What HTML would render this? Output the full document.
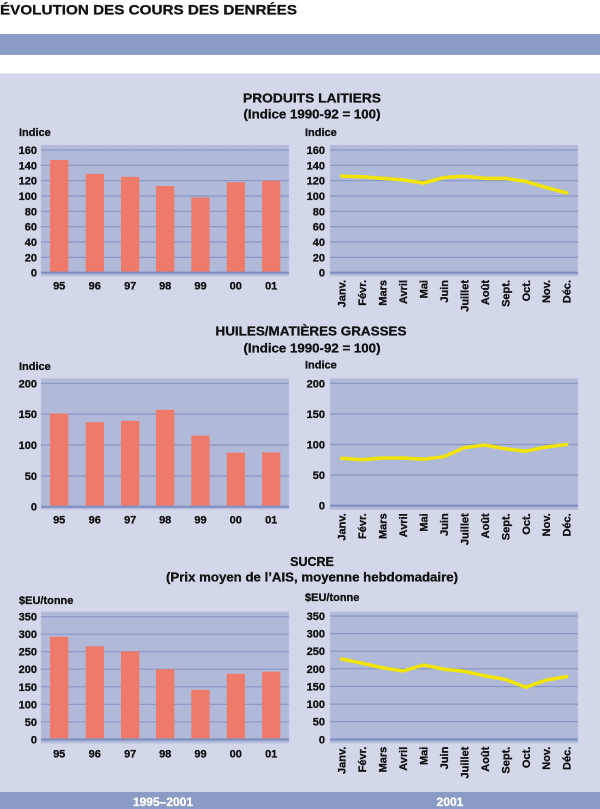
<!DOCTYPE html>
<html><head><meta charset="utf-8"><style>
html,body{margin:0;padding:0;background:#fff;}
svg{display:block;}
text{font-family:"Liberation Sans",Arial,sans-serif;font-weight:bold;fill:#111;stroke:#111;stroke-width:0.3;}
.t{font-size:11px;}
.h{font-size:12.5px;}
.w{fill:#fff;stroke:#fff;}
.g{stroke:#8798c6;stroke-width:1.2;}
.ax{stroke:#7f90c0;stroke-width:2.2;}
.bar{fill:#ee7a6a;}
.pl{fill:#b1b9d9;stroke:#c3c9e2;stroke-width:1;stroke-dasharray:1.5 1.5;}
.ln{fill:none;stroke:#f1e500;stroke-width:3.5;stroke-linejoin:round;stroke-linecap:round;}
</style></head><body>
<svg width="600" height="809" viewBox="0 0 600 809" xmlns="http://www.w3.org/2000/svg">
<rect x="0" y="0" width="600" height="809" fill="#fff"/>
<text x="0" y="14.5" style="font-size:14px" textLength="297" lengthAdjust="spacingAndGlyphs">ÉVOLUTION DES COURS DES DENRÉES</text>
<rect x="0" y="34" width="600" height="21" fill="#8a9cc6"/>
<rect x="0" y="73.5" width="600" height="718.5" fill="#d3d7ea"/>
<rect x="0" y="792" width="600" height="17" fill="#8a9cc6"/>
<text x="163" y="806" text-anchor="middle" class="w" style="font-size:12px">1995–2001</text>
<text x="450" y="806" text-anchor="middle" class="w" style="font-size:12px">2001</text>

<!-- Chart 1 titles -->
<text x="312" y="102.5" text-anchor="middle" class="h" textLength="138" lengthAdjust="spacingAndGlyphs">PRODUITS LAITIERS</text>
<text x="312" y="118.5" text-anchor="middle" class="h" textLength="137" lengthAdjust="spacingAndGlyphs">(Indice 1990-92 = 100)</text>
<text x="19" y="136" class="t">Indice</text>
<text x="305" y="136" class="t">Indice</text>

<!-- C1 left -->
<rect class="pl" x="41" y="145" width="248" height="131"/>
<g class="g">
<line x1="41" x2="289" y1="257.4" y2="257.4"/><line x1="41" x2="289" y1="242" y2="242"/>
<line x1="41" x2="289" y1="226.7" y2="226.7"/><line x1="41" x2="289" y1="211.3" y2="211.3"/>
<line x1="41" x2="289" y1="196" y2="196"/><line x1="41" x2="289" y1="180.7" y2="180.7"/>
<line x1="41" x2="289" y1="165.3" y2="165.3"/><line x1="41" x2="289" y1="150" y2="150"/>
</g>
<rect class="bar" x="50" y="160" width="18.3" height="112.7"/>
<rect class="bar" x="85.7" y="173.8" width="18.3" height="98.9"/>
<rect class="bar" x="121" y="176.8" width="18.3" height="95.9"/>
<rect class="bar" x="156" y="186" width="18.3" height="86.7"/>
<rect class="bar" x="191.3" y="197.5" width="18.3" height="75.2"/>
<rect class="bar" x="226.7" y="182.2" width="18.3" height="90.5"/>
<rect class="bar" x="262" y="180.7" width="18.3" height="92"/>
<line class="ax" x1="41" x2="289" y1="272.7" y2="272.7"/>
<g class="t" text-anchor="end">
<text x="37" y="276.7">0</text><text x="37" y="261.4">20</text><text x="37" y="246">40</text>
<text x="37" y="230.7">60</text><text x="37" y="215.3">80</text><text x="37" y="200">100</text>
<text x="37" y="184.7">120</text><text x="37" y="169.3">140</text><text x="37" y="154">160</text>
</g>
<g class="t" text-anchor="middle">
<text x="59.2" y="289.7">95</text><text x="94.8" y="289.7">96</text><text x="130.2" y="289.7">97</text>
<text x="165.2" y="289.7">98</text><text x="200.5" y="289.7">99</text><text x="235.8" y="289.7">00</text>
<text x="271.2" y="289.7">01</text>
</g>

<!-- C1 right -->
<rect class="pl" x="330" y="145" width="248" height="131"/>
<g class="g">
<line x1="330" x2="578" y1="257.4" y2="257.4"/><line x1="330" x2="578" y1="242" y2="242"/>
<line x1="330" x2="578" y1="226.7" y2="226.7"/><line x1="330" x2="578" y1="211.3" y2="211.3"/>
<line x1="330" x2="578" y1="196" y2="196"/><line x1="330" x2="578" y1="180.7" y2="180.7"/>
<line x1="330" x2="578" y1="165.3" y2="165.3"/><line x1="330" x2="578" y1="150" y2="150"/>
</g>
<line class="ax" x1="330" x2="578" y1="272.7" y2="272.7"/>
<polyline class="ln" points="341.7,176.1 362.2,176.8 382.6,178.4 403.1,179.9 423.5,183 444,177.6 464.4,176.1 484.9,178.4 505.3,178.4 525.8,181.4 546.2,187.6 566.7,192.9"/>
<g class="t" text-anchor="end">
<text x="325" y="276.7">0</text><text x="325" y="261.4">20</text><text x="325" y="246">40</text>
<text x="325" y="230.7">60</text><text x="325" y="215.3">80</text><text x="325" y="200">100</text>
<text x="325" y="184.7">120</text><text x="325" y="169.3">140</text><text x="325" y="154">160</text>
</g>
<g class="t" text-anchor="end">
<text transform="translate(345.7,280) rotate(-90)">Janv.</text>
<text transform="translate(366.2,280) rotate(-90)">Févr.</text>
<text transform="translate(386.6,280) rotate(-90)">Mars</text>
<text transform="translate(407.1,280) rotate(-90)">Avril</text>
<text transform="translate(427.5,280) rotate(-90)">Mai</text>
<text transform="translate(448,280) rotate(-90)">Juin</text>
<text transform="translate(468.4,280) rotate(-90)">Juillet</text>
<text transform="translate(488.9,280) rotate(-90)">Août</text>
<text transform="translate(509.3,280) rotate(-90)">Sept.</text>
<text transform="translate(529.8,280) rotate(-90)">Oct.</text>
<text transform="translate(550.2,280) rotate(-90)">Nov.</text>
<text transform="translate(570.7,280) rotate(-90)">Déc.</text>
</g>

<!-- Chart 2 titles -->
<text x="311" y="335.5" text-anchor="middle" class="h" textLength="191" lengthAdjust="spacingAndGlyphs">HUILES/MATIÈRES GRASSES</text>
<text x="312" y="352.5" text-anchor="middle" class="h" textLength="137" lengthAdjust="spacingAndGlyphs">(Indice 1990-92 = 100)</text>
<text x="19" y="370" class="t">Indice</text>
<text x="305" y="368.5" class="t">Indice</text>

<!-- C2 left -->
<rect class="pl" x="41" y="378.3" width="248" height="131"/>
<g class="g">
<line x1="41" x2="289" y1="475.85" y2="475.85"/><line x1="41" x2="289" y1="445" y2="445"/>
<line x1="41" x2="289" y1="414.15" y2="414.15"/><line x1="41" x2="289" y1="383.3" y2="383.3"/>
</g>
<rect class="bar" x="50" y="413.5" width="18.3" height="93.2"/>
<rect class="bar" x="85.7" y="422.2" width="18.3" height="84.5"/>
<rect class="bar" x="121" y="420.9" width="18.3" height="85.8"/>
<rect class="bar" x="156" y="409.8" width="18.3" height="96.9"/>
<rect class="bar" x="191.3" y="435.7" width="18.3" height="71"/>
<rect class="bar" x="226.7" y="452.7" width="18.3" height="54"/>
<rect class="bar" x="262" y="452.4" width="18.3" height="54.3"/>
<line class="ax" x1="41" x2="289" y1="506.7" y2="506.7"/>
<g class="t" text-anchor="end">
<text x="37" y="510.7">0</text><text x="37" y="479.9">50</text><text x="37" y="449">100</text>
<text x="37" y="418.2">150</text><text x="37" y="387.3">200</text>
</g>
<g class="t" text-anchor="middle">
<text x="59.2" y="523.7">95</text><text x="94.8" y="523.7">96</text><text x="130.2" y="523.7">97</text>
<text x="165.2" y="523.7">98</text><text x="200.5" y="523.7">99</text><text x="235.8" y="523.7">00</text>
<text x="271.2" y="523.7">01</text>
</g>

<!-- C2 right -->
<rect class="pl" x="330" y="378.3" width="248" height="131.5"/>
<g class="g">
<line x1="330" x2="578" y1="475.1" y2="475.1"/><line x1="330" x2="578" y1="444.5" y2="444.5"/>
<line x1="330" x2="578" y1="413.9" y2="413.9"/><line x1="330" x2="578" y1="383.3" y2="383.3"/>
</g>
<line class="ax" x1="330" x2="578" y1="505.7" y2="505.7"/>
<polyline class="ln" points="341.7,458.3 362.2,459.8 382.6,458 403.1,458 423.5,459.2 444,456.7 464.4,447.6 484.9,445.1 505.3,448.8 525.8,451.2 546.2,447 566.7,444.5"/>
<g class="t" text-anchor="end">
<text x="325" y="509.7">0</text><text x="325" y="479.1">50</text><text x="325" y="448.5">100</text>
<text x="325" y="417.9">150</text><text x="325" y="387.3">200</text>
</g>
<g class="t" text-anchor="end">
<text transform="translate(345.7,513.3) rotate(-90)">Janv.</text>
<text transform="translate(366.2,513.3) rotate(-90)">Févr.</text>
<text transform="translate(386.6,513.3) rotate(-90)">Mars</text>
<text transform="translate(407.1,513.3) rotate(-90)">Avril</text>
<text transform="translate(427.5,513.3) rotate(-90)">Mai</text>
<text transform="translate(448,513.3) rotate(-90)">Juin</text>
<text transform="translate(468.4,513.3) rotate(-90)">Juillet</text>
<text transform="translate(488.9,513.3) rotate(-90)">Août</text>
<text transform="translate(509.3,513.3) rotate(-90)">Sept.</text>
<text transform="translate(529.8,513.3) rotate(-90)">Oct.</text>
<text transform="translate(550.2,513.3) rotate(-90)">Nov.</text>
<text transform="translate(570.7,513.3) rotate(-90)">Déc.</text>
</g>

<!-- Chart 3 titles -->
<text x="312" y="566" text-anchor="middle" class="h">SUCRE</text>
<text x="312" y="581.5" text-anchor="middle" class="h" textLength="292" lengthAdjust="spacingAndGlyphs">(Prix moyen de l’AIS, moyenne hebdomadaire)</text>
<text x="19" y="604" class="t">$EU/tonne</text>
<text x="305" y="601" class="t">$EU/tonne</text>

<!-- C3 left -->
<rect class="pl" x="41" y="611.7" width="248" height="131.5"/>
<g class="g">
<line x1="41" x2="289" y1="721.8" y2="721.8"/><line x1="41" x2="289" y1="704.3" y2="704.3"/>
<line x1="41" x2="289" y1="686.8" y2="686.8"/><line x1="41" x2="289" y1="669.2" y2="669.2"/>
<line x1="41" x2="289" y1="651.7" y2="651.7"/><line x1="41" x2="289" y1="634.2" y2="634.2"/>
<line x1="41" x2="289" y1="616.7" y2="616.7"/>
</g>
<rect class="bar" x="50" y="636.7" width="18.3" height="102.6"/>
<rect class="bar" x="85.7" y="646.3" width="18.3" height="93"/>
<rect class="bar" x="121" y="651.4" width="18.3" height="87.9"/>
<rect class="bar" x="156" y="669.2" width="18.3" height="70.1"/>
<rect class="bar" x="191.3" y="689.9" width="18.3" height="49.4"/>
<rect class="bar" x="226.7" y="673.8" width="18.3" height="65.5"/>
<rect class="bar" x="262" y="671.7" width="18.3" height="67.6"/>
<line class="ax" x1="41" x2="289" y1="739.5" y2="739.5"/>
<g class="t" text-anchor="end">
<text x="37" y="743.3">0</text><text x="37" y="725.8">50</text><text x="37" y="708.3">100</text>
<text x="37" y="690.8">150</text><text x="37" y="673.2">200</text><text x="37" y="655.7">250</text>
<text x="37" y="638.2">300</text><text x="37" y="620.7">350</text>
</g>
<g class="t" text-anchor="middle">
<text x="59.2" y="757.3">95</text><text x="94.8" y="757.3">96</text><text x="130.2" y="757.3">97</text>
<text x="165.2" y="757.3">98</text><text x="200.5" y="757.3">99</text><text x="235.8" y="757.3">00</text>
<text x="271.2" y="757.3">01</text>
</g>

<!-- C3 right -->
<rect class="pl" x="330" y="611.7" width="248" height="131.5"/>
<g class="g">
<line x1="330" x2="578" y1="721.7" y2="721.7"/><line x1="330" x2="578" y1="704.1" y2="704.1"/>
<line x1="330" x2="578" y1="686.5" y2="686.5"/><line x1="330" x2="578" y1="668.8" y2="668.8"/>
<line x1="330" x2="578" y1="651.2" y2="651.2"/><line x1="330" x2="578" y1="633.6" y2="633.6"/>
<line x1="330" x2="578" y1="616" y2="616"/>
</g>
<line class="ax" x1="330" x2="578" y1="739.5" y2="739.5"/>
<polyline class="ln" points="341.7,659 362.2,663.2 382.6,667.8 403.1,671 423.5,665 444,669.2 464.4,671.3 484.9,675.9 505.3,679.4 525.8,687.2 546.2,680.1 566.7,676.6"/>
<g class="t" text-anchor="end">
<text x="325" y="743.3">0</text><text x="325" y="725.7">50</text><text x="325" y="708.1">100</text>
<text x="325" y="690.5">150</text><text x="325" y="672.8">200</text><text x="325" y="655.2">250</text>
<text x="325" y="637.6">300</text><text x="325" y="620">350</text>
</g>
<g class="t" text-anchor="end">
<text transform="translate(345.7,746.7) rotate(-90)">Janv.</text>
<text transform="translate(366.2,746.7) rotate(-90)">Févr.</text>
<text transform="translate(386.6,746.7) rotate(-90)">Mars</text>
<text transform="translate(407.1,746.7) rotate(-90)">Avril</text>
<text transform="translate(427.5,746.7) rotate(-90)">Mai</text>
<text transform="translate(448,746.7) rotate(-90)">Juin</text>
<text transform="translate(468.4,746.7) rotate(-90)">Juillet</text>
<text transform="translate(488.9,746.7) rotate(-90)">Août</text>
<text transform="translate(509.3,746.7) rotate(-90)">Sept.</text>
<text transform="translate(529.8,746.7) rotate(-90)">Oct.</text>
<text transform="translate(550.2,746.7) rotate(-90)">Nov.</text>
<text transform="translate(570.7,746.7) rotate(-90)">Déc.</text>
</g>
</svg>
</body></html>
